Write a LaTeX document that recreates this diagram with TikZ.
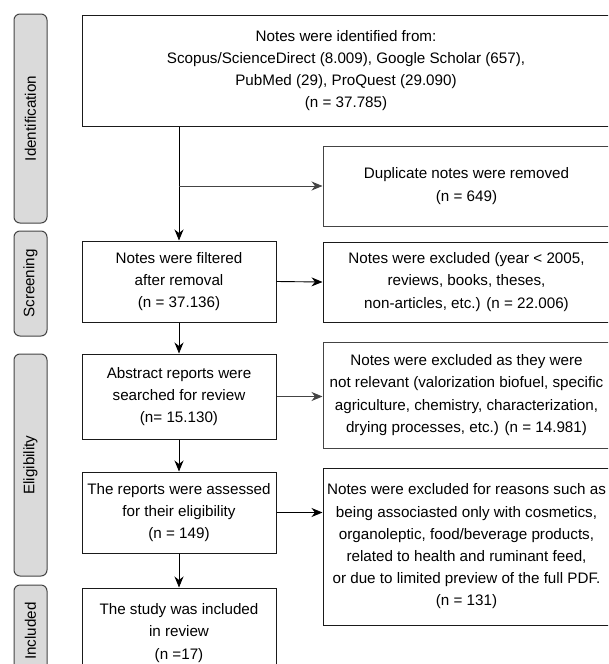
\documentclass[tikz,border=0pt]{standalone}
\usepackage{fontspec}
\setmainfont{Liberation Sans}
\usetikzlibrary{arrows.meta}
\definecolor{lblfill}{HTML}{DADADA}
\definecolor{edge}{HTML}{1A1A1A}
\definecolor{edgeg}{HTML}{444444}
\tikzset{
  box/.style={draw=edge, line width=1pt, align=center, inner sep=0pt,
    font=\fontsize{15.2}{22.2}\selectfont},
  sidebox/.style={draw=edgeg, line width=1pt, fill=lblfill, rounded corners=6pt, inner sep=0pt,
    minimum width=33pt},
  sidetext/.style={rotate=90, font=\fontsize{15.2}{18}\selectfont},
  arr/.style={draw=black, line width=0.9pt, -{Stealth[length=11pt,width=9pt,inset=3.5pt]}},
}
\begin{document}
\begin{tikzpicture}[x=1pt,y=-1pt]
\useasboundingbox (0,0) rectangle (608,664);
\clip (0,0) rectangle (608,664);
% side labels
\node[sidebox, minimum height=209pt] (sid) at (30.5,118.5) {};
\node[sidetext] (tid) at (sid.center) {Identification};
\node[sidebox, minimum height=105pt] (sscr) at (30.5,283.5) {};
\node[sidetext] (tscr) at (sscr.center) {Screening};
\node[sidebox, minimum height=222pt] (selg) at (30.5,465) {};
\node[sidetext] (telg) at (selg.center) {Eligibility};
\node[sidebox, minimum height=92pt] (sinc) at (30.5,631) {};
\node[sidetext] (tinc) at (sinc.center) {Included};
% boxes
\node[box, minimum width=528pt, minimum height=111pt] (main) at (346,70.5)
  {Notes were identified from:\\Scopus/ScienceDirect (8.009), Google Scholar (657),\\PubMed (29), ProQuest (29.090)\\(n = 37.785)};
\node[box, draw=edgeg, minimum width=287pt, minimum height=80pt] (dup) at (466.5,186)
  {Duplicate notes were removed\\(n = 649)};
\node[box, minimum width=194pt, minimum height=81pt] (filt) at (179,281.5)
  {Notes were filtered\\after removal\\(n = 37.136)};
\node[box, minimum width=287pt, minimum height=80pt] (ex1) at (466.5,282)
  {Notes were excluded (year < 2005,\\reviews, books, theses,\\non-articles, etc.) (n = 22.006)};
\node[box, minimum width=194pt, minimum height=85pt] (abs) at (179,396.5)
  {Abstract reports were\\searched for review\\(n= 15.130)};
\node[box, draw=edgeg, minimum width=287pt, minimum height=106pt] (ex2) at (466.5,395)
  {Notes were excluded as they were\\not relevant (valorization biofuel, specific\\agriculture, chemistry, characterization,\\drying processes, etc.) (n = 14.981)};
\node[box, minimum width=194pt, minimum height=81pt] (ass) at (179,512.5)
  {The reports were assessed\\for their eligibility\\(n = 149)};
\node[box, minimum width=287pt, minimum height=157pt] (ex3) at (466.5,546.5)
  {Notes were excluded for reasons such as\\being associasted only with cosmetics,\\organoleptic, food/beverage products,\\related to health and ruminant feed,\\or due to limited preview of the full PDF.\\(n = 131)};
\node[box, minimum width=194pt, minimum height=90pt] (stu) at (179,633)
  {The study was included\\in review\\(n =17)};
% connectors
\draw[arr] (filt.north |- main.south) -- (filt.north);
\draw[arr, draw=edgeg] (filt.north |- dup.west) -- (dup.west);
\draw[arr] (filt.east) -- (ex1.west);
\draw[arr, draw=edgeg] (abs.east) -- (abs.east -| ex2.west);
\draw[arr] (ass.east) -- (ass.east -| ex3.west);
\draw[arr] (filt.south) -- (abs.north);
\draw[arr] (abs.south) -- (ass.north);
\draw[arr] (ass.south) -- (stu.north);
\end{tikzpicture}
\end{document}
